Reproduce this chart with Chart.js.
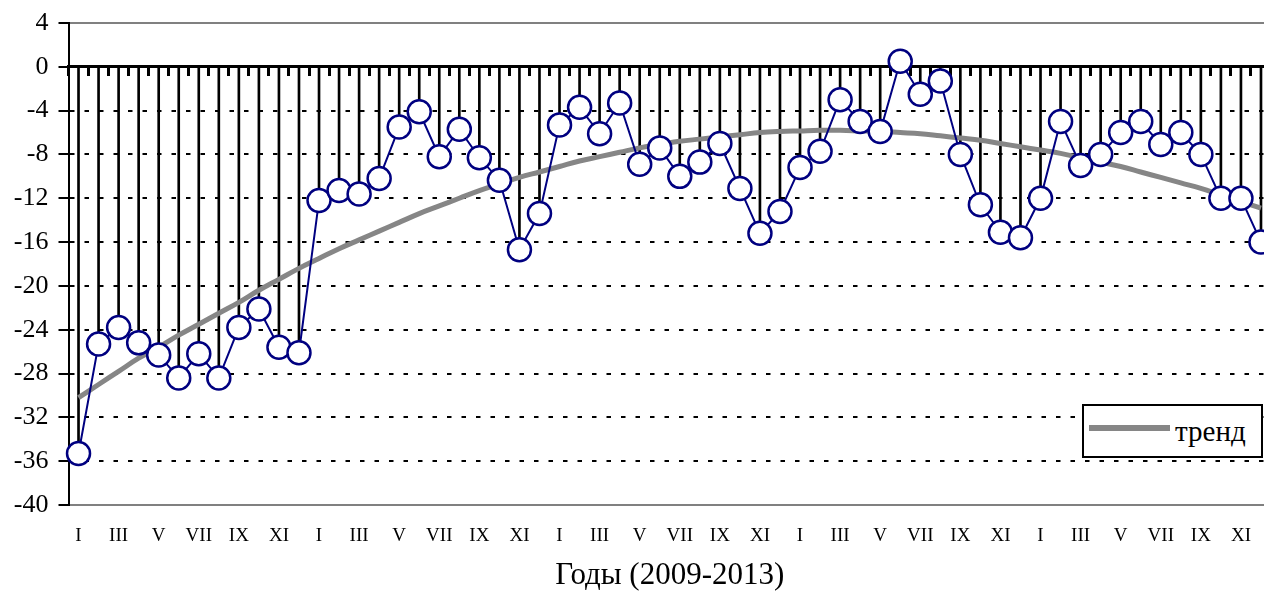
<!DOCTYPE html>
<html>
<head>
<meta charset="utf-8">
<script src="https://cdn.jsdelivr.net/npm/chart.js@4"></script>
<style>
  html, body { margin: 0; padding: 0; overflow: hidden; background: #fff; }
  #wrap { position: relative; width: 1272px; height: 591px; }
  #c { display: block; width: 1272px; height: 591px; }
  #legendBox {
    position: absolute; left: 1082px; top: 404px; width: 177px; height: 50px;
    border: 2px solid #000; background: #fff; display: flex; align-items: center;
    font-family: 'Liberation Serif', 'Times New Roman', serif; font-size: 29px; color: #000;
  }
  #legendLine { width: 81px; height: 6px; margin-left: 5px; margin-right: 5px; margin-top: -6px; }
</style>
</head>
<body>
<div id="wrap">
  <canvas id="c" width="1272" height="591"></canvas>
  <div id="legendBox"><span id="legendLine"></span><span id="legendText"></span></div>
</div>
<script>
// ---- data ----
const months = ['I','II','III','IV','V','VI','VII','VIII','IX','X','XI','XII'];
const years = [2009, 2010, 2011, 2012, 2013];
const axisTitle = 'Годы (2009-2013)';
const trendLabel = 'тренд';

const values2009 = [-35.3, -25.3, -23.8, -25.2, -26.3, -28.4, -26.2, -28.4, -23.8, -22.1, -25.6, -26.1];
const values2010 = [-12.2, -11.3, -11.6, -10.2, -5.5, -4.1, -8.2, -5.7, -8.3, -10.35, -16.7, -13.4];
const values2011 = [-5.3, -3.7, -6.1, -3.3, -8.9, -7.4, -10.0, -8.7, -7.0, -11.1, -15.2, -13.2];
const values2012 = [-9.2, -7.7, -3.0, -5.0, -5.9, 0.5, -2.5, -1.3, -8.0, -12.6, -15.1, -15.6];
const values2013 = [-12.0, -5.0, -9.0, -8.0, -6.0, -5.0, -7.1, -6.0, -8.0, -12.0, -12.0, -16.0];

const trend2009 = [-30.2, -29.0, -27.8, -26.6, -25.6, -24.5, -23.5, -22.5, -21.5, -20.4, -19.4, -18.4];
const trend2010 = [-17.5, -16.6, -15.8, -15.0, -14.2, -13.4, -12.7, -12.0, -11.3, -10.7, -10.1, -9.6];
const trend2011 = [-9.1, -8.6, -8.2, -7.8, -7.4, -7.1, -6.8, -6.6, -6.4, -6.2, -6.0, -5.9];
const trend2012 = [-5.85, -5.8, -5.8, -5.85, -5.9, -6.0, -6.1, -6.3, -6.5, -6.7, -7.0, -7.3];
const trend2013 = [-7.6, -7.9, -8.3, -8.7, -9.1, -9.6, -10.1, -10.6, -11.1, -11.7, -12.3, -12.9];

const yMin = -40, yMax = 4, yStep = 4;

// ---- assembled for the library ----
const categories = years.flatMap(() => months);
const values = [...values2009, ...values2010, ...values2011, ...values2012, ...values2013];
const trend = [...trend2009, ...trend2010, ...trend2011, ...trend2012, ...trend2013];
const drops = values.map(v => [0, v]);

const serif = "'Liberation Serif', 'Times New Roman', serif";
const navy = '#000080';
const trendColor = '#868686';

const chart = new Chart(document.getElementById('c'), {
  type: 'bar',
  data: {
    labels: categories,
    datasets: [
      {
        type: 'bar', label: 'drops', data: drops,
        backgroundColor: '#000', borderWidth: 0, barThickness: 2,
        xAxisID: 'x', yAxisID: 'y', order: 3
      },
      {
        type: 'line', label: trendLabel, data: trend,
        borderColor: trendColor, borderWidth: 5, pointRadius: 0, tension: 0.4,
        fill: false, xAxisID: 'x', yAxisID: 'y', order: 2
      },
      {
        type: 'line', label: 'ряд', data: values,
        borderColor: navy, borderWidth: 2, tension: 0,
        pointRadius: 11.5, pointBorderWidth: 2.5,
        pointBackgroundColor: '#fff', pointBorderColor: navy,
        fill: false, xAxisID: 'x', yAxisID: 'y', order: 1
      }
    ]
  },
  options: {
    responsive: false, maintainAspectRatio: false, animation: false, devicePixelRatio: 1,
    layout: { autoPadding: false, padding: { left: 11, right: 1, top: 23, bottom: 0 } },
    plugins: { legend: { display: false }, tooltip: { enabled: false } },
    scales: {
      x: {
        type: 'category', position: 'bottom', offset: true,
        afterFit: s => { s.height = 86; s.paddingLeft = 0; s.paddingRight = 0; },
        grid: { display: true, drawOnChartArea: false, drawTicks: false, offset: true },
        border: { display: true, color: '#808080', width: 2 },
        ticks: {
          autoSkip: false, maxRotation: 0, minRotation: 0, padding: 20,
          color: '#000', font: { family: serif, size: 19 },
          callback: (v, i) => (i % 2 === 0 ? categories[i] : '')
        },
        title: {
          display: true, text: axisTitle, color: '#000',
          font: { family: serif, size: 31, lineHeight: 1.0 },
          padding: { top: 14, bottom: 0 }
        }
      },
      xTop: {
        type: 'category', position: 'top', offset: true,
        afterFit: s => { s.height = 0; s.paddingLeft = 0; s.paddingRight = 0; },
        grid: { drawOnChartArea: false, drawTicks: false },
        border: { display: true, color: '#808080', width: 2 },
        ticks: { display: false }
      },
      xZero: {
        type: 'category', position: { y: 0 }, offset: true,
        afterFit: s => { s.height = 0; s.paddingLeft = 0; s.paddingRight = 0; },
        grid: { drawOnChartArea: false, drawTicks: true, tickLength: 8, tickWidth: 3, tickColor: '#000', offset: true },
        border: { display: true, color: '#000', width: 3 },
        ticks: { display: false }
      },
      y: {
        type: 'linear', position: 'left', min: yMin, max: yMax,
        afterFit: s => { s.width = 57.5; s.paddingTop = 0; s.paddingBottom = 0; },
        grid: {
          color: '#000', lineWidth: 2, drawTicks: true, tickLength: 10,
          tickColor: '#000', tickWidth: 2
        },
        border: { display: true, color: '#000', width: 2, dash: [4.5, 10] },
        ticks: {
          stepSize: yStep, padding: 10, color: '#000',
          font: { family: serif, size: 26 }
        }
      }
    }
  }
});

const trendDs = chart.data.datasets[1];
document.getElementById('legendText').textContent = trendDs.label;
document.getElementById('legendLine').style.background = trendDs.borderColor;
</script>
</body>
</html>
